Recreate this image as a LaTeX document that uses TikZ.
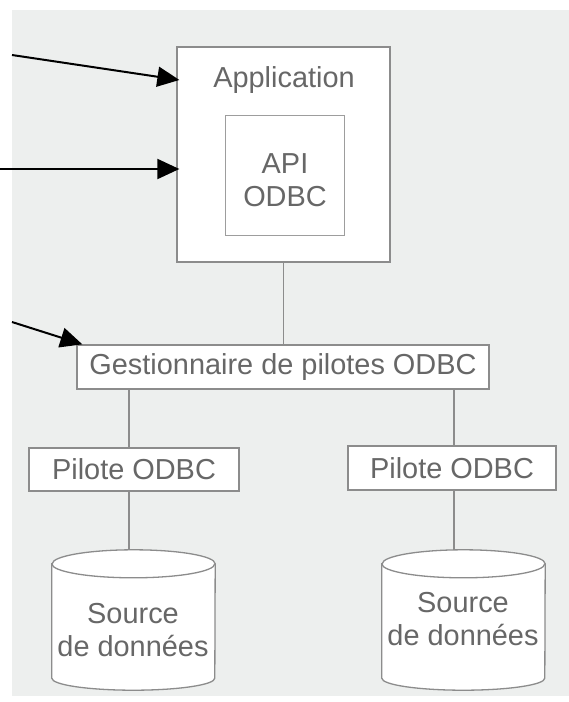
\documentclass[tikz,border=0pt]{standalone}
\usepackage{fontspec}
\setmainfont{Liberation Sans}
\usetikzlibrary{arrows.meta}
\definecolor{paper}{HTML}{EDEFEE}
\definecolor{ink}{HTML}{676767}
\definecolor{edge}{HTML}{8C8C8C}
\begin{document}
\begin{tikzpicture}[x=1pt,y=-1pt,
  box/.style={draw=edge, line width=1.3pt, fill=white, inner sep=0pt},
  txt/.style={text=ink, font=\fontsize{28.9}{33}\selectfont, inner sep=0pt, align=center},
  conn/.style={draw=edge, line width=1.3pt},
  pointer/.style={draw=black, line width=2pt, -{Triangle[length=22pt,width=20pt]}},
  cyl/.style={draw=edge, line width=1.3pt, fill=white}]
\fill[white] (0,0) rectangle (569,702);
\fill[paper] (12,10) rectangle (569,696);
\useasboundingbox (0,0) rectangle (569,702);

% Application box with API inside
\node[box, minimum width=213pt, minimum height=215pt] (app) at (283.5,154.5) {};
\node[txt] (appl) at (284,80) {Application};
\node[box, draw=edge!85, line width=1pt, minimum width=119pt, minimum height=120pt] (apibox) at (284.5,175) {};
\node[txt] (api) at (285,180) {API\\ODBC};

% Driver manager
\node[box, minimum width=412pt, minimum height=44pt] (g) at (283,367) {};
\node[txt] (gt) at (g) {Gestionnaire de pilotes ODBC};

% Drivers
\node[box, txt, minimum width=210pt, minimum height=43pt] (p1) at (134,469.5) {Pilote ODBC};
\node[box, txt, minimum width=208pt, minimum height=44pt] (p2) at (452,468) {Pilote ODBC};

% Data sources (cylinders)
\node[inner sep=0pt, minimum width=163pt, minimum height=140pt] (s1) at (133.5,620) {};
\node[inner sep=0pt, minimum width=163pt, minimum height=140pt] (s2) at (463.5,620) {};
\foreach \s in {s1,s2}{
  \path[cyl] ([yshift=-14pt]\s.north west) -- ([yshift=12pt]\s.south west)
    arc[start angle=180, end angle=360, x radius=81.5pt, y radius=12pt]
    -- ([yshift=-14pt]\s.north east)
    arc[start angle=0, end angle=180, x radius=81.5pt, y radius=14pt] -- cycle;
  \draw[cyl, fill=none] ([yshift=-14pt]\s.north west)
    arc[start angle=180, end angle=360, x radius=81.5pt, y radius=14pt];
}
\node[txt] (s1t) at (133,630) {Source\\de données};
\node[txt] (s2t) at (463,619) {Source\\de données};

% Connectors
\draw[conn] (app.south) -- (app.south |- g.north);
\draw[conn] ([xshift=-5pt]p1.north) -- ([xshift=-5pt]p1.north |- g.south);
\draw[conn] ([xshift=2pt]p2.north) -- ([xshift=2pt]p2.north |- g.south);
\draw[conn] ([xshift=-5pt]p1.south) -- ([xshift=-5pt]p1.south |- s1.north);
\draw[conn] ([xshift=2pt]p2.south) -- ([xshift=2pt]p2.south |- s2.north);

% Pointer arrows
\coordinate (a1) at (12,55);
\coordinate (a2) at (0,169);
\coordinate (a3) at (12,322);
\draw[pointer] (a1) -- ([xshift=3pt]app.west |- appl.center);
\draw[pointer] (a2) -- ([xshift=3pt,yshift=-14.5pt]app.west);
\draw[pointer] (a3) -- ([xshift=6pt]g.north west);
\end{tikzpicture}
\end{document}
